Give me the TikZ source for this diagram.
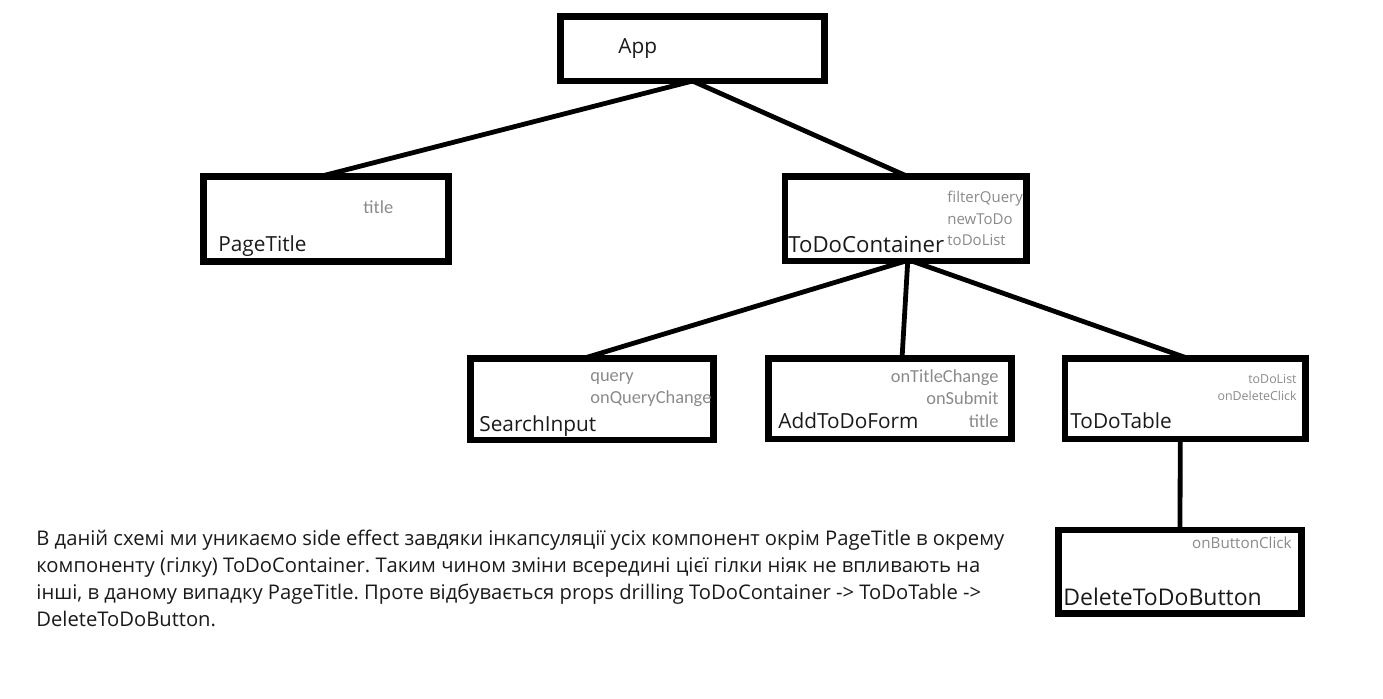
\documentclass[tikz,border=0pt]{standalone}
\usepackage{fontspec}
\setmainfont{Open Sans}
\newfontfamily\calfont{Carlito}
\usetikzlibrary{fit}
\definecolor{proptext}{HTML}{8A8A8A}
\definecolor{maintext}{HTML}{1A1A1A}
\tikzset{
 compbox/.style={draw=black, line width=3.25pt, inner sep=0pt, outer sep=0pt},
 link/.style={draw=black, line width=2.4pt},
 cname/.style={anchor=base west, inner sep=0pt, text=maintext, font=\fontsize{10.4}{12}\selectfont},
 propS/.style={inner sep=0pt, text=proptext, font=\fontsize{7.5}{9}\selectfont},
 propC/.style={inner sep=0pt, text=proptext, font=\calfont\fontsize{9.2}{11}\selectfont},
 bodytext/.style={inner sep=0pt, text=maintext, align=left, font=\frenchspacing\fontsize{10.1}{13.5}\selectfont},
}
\begin{document}
\begin{tikzpicture}[x=0.5pt,y=-0.5pt]
\useasboundingbox (0,0) rectangle (1383,698);
% boxes
\node[compbox, fit={(560.5,16.5)(824.5,81)}] (app) {};
\node[compbox, fit={(203.5,176.5)(448.5,261.5)}] (pt) {};
\node[compbox, fit={(785,176.5)(1026.5,261)}] (tdc) {};
\node[compbox, fit={(470.5,358.5)(713.5,440)}] (si) {};
\node[compbox, fit={(768.5,358.5)(1011.5,439)}] (af) {};
\node[compbox, fit={(1065,358.5)(1305.5,439)}] (tt) {};
\node[compbox, fit={(1058.5,530)(1301.5,613.5)}] (db) {};
% connectors
\draw[link] (app.south) -- ([xshift=-3pt]pt.north);
\draw[link] (app.south) -- ([xshift=1pt]tdc.north);
\draw[link] (tdc.south) -- ([xshift=-4.5pt]si.north);
\draw[link] ([xshift=1pt]tdc.south) -- ([xshift=6pt]af.north);
\draw[link] ([xshift=3pt]tdc.south) -- ([xshift=1.5pt]tt.north);
\draw[link] ([xshift=-2.5pt]tt.south) -- (db.north);
% names
\node[cname] (appname) at (618,53) {App};
\node[cname] (ptname) at (218,251) {PageTitle};
\node[cname, font=\fontsize{11.1}{13}\selectfont] (tdcname) at (788,252) {ToDoContainer};
\node[cname] (siname) at (479,431) {SearchInput};
\node[cname] (afname) at (778,428) {AddToDoForm};
\node[cname] (ttname) at (1070,428) {ToDoTable};
\node[cname, font=\fontsize{11.5}{13}\selectfont] (dbname) at (1063,605) {DeleteToDoButton};
% props
\node[propC, anchor=base west] (ptp1) at (363,213) {title};
\node[propS, anchor=base west] (tdcp1) at (947,202) {filterQuery};
\node[propS, anchor=base west] (tdcp2) at (947,224) {newToDo};
\node[propS, anchor=base west] (tdcp3) at (947,245) {toDoList};
\node[propC, anchor=base west] (sip1) at (590,381) {query};
\node[propC, anchor=base west] (sip2) at (590,403) {onQueryChange};
\node[propC, anchor=base east] (afp1) at (999,382) {onTitleChange};
\node[propC, anchor=base east] (afp2) at (999,404) {onSubmit};
\node[propC, anchor=base east] (afp3) at (999,427) {title};
\node[propS, anchor=base east, font=\fontsize{6.2}{8}\selectfont] (ttp1) at (1297,383) {toDoList};
\node[propS, anchor=base east, font=\fontsize{6.2}{8}\selectfont] (ttp2) at (1297,400) {onDeleteClick};
\node[propS, anchor=base east, font=\fontsize{7.6}{9}\selectfont] (dbp1) at (1292,548) {onButtonClick};
% description
\node[bodytext, anchor=north west] (desc) at (36,530) {В даній схемі ми уникаємо side effect завдяки інкапсуляції усіх компонент окрім PageTitle в окрему\\
компоненту (гілку) ToDoContainer. Таким чином зміни всередині цієї гілки ніяк не впливають на\\
інші, в даному випадку PageTitle. Проте відбувається props drilling ToDoContainer -> ToDoTable ->\\
DeleteToDoButton.};
\end{tikzpicture}
\end{document}
